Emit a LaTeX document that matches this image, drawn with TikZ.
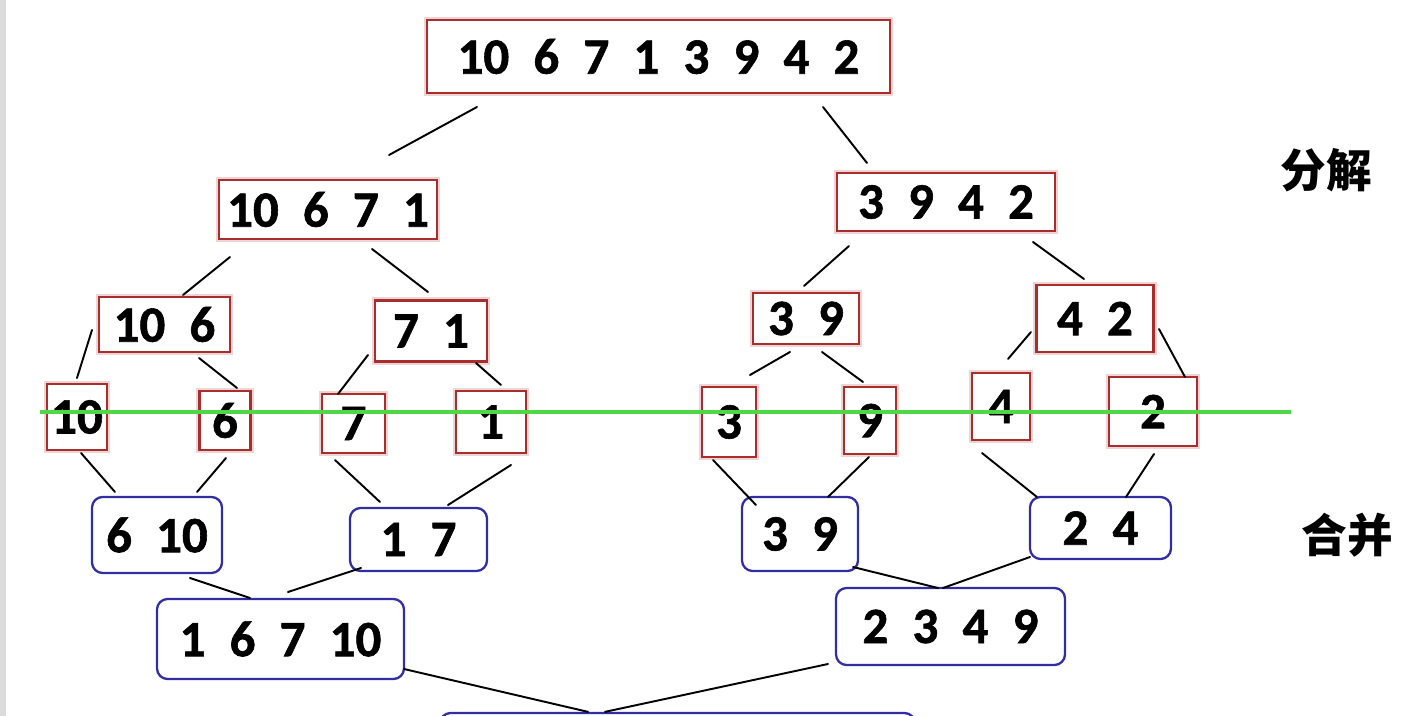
\documentclass[tikz,border=0pt]{standalone}
\usepackage{fontspec}
\setmainfont{Carlito}[WordSpace={2.1,0,0}, BoldFeatures={FakeBold=1.2}]
\newfontfamily\cjk{Noto Sans CJK SC}
\usetikzlibrary{calc}
\definecolor{splitred}{RGB}{170,45,45}
\definecolor{mergeblue}{RGB}{50,45,160}
\definecolor{guidegreen}{RGB}{80,215,70}

\begin{document}
\begin{tikzpicture}[x=0.02cm, y=-0.02cm,
      every node/.append style={font=\fontsize{29}{29}\selectfont\bfseries, inner sep=0pt},
      sz/.style n args={2}{minimum width=#1*0.02cm, minimum height=#2*0.02cm},
      split/.style={draw=splitred, line width=1.2pt, fill=white,
        preaction={draw=splitred!20, line width=3.5pt}},
      merge/.style={draw=mergeblue, line width=1.3pt, rounded corners=6pt, fill=white},
      conn/.style={line width=1.1pt, line cap=round}]
    \tikzstyle{phase} = [font=\cjk\fontsize{26}{26}\selectfont\bfseries]
    \useasboundingbox (0,0) rectangle (1418,716);
    \clip (0,0) rectangle (1418,716);
    \fill[black!14] (0,0) rectangle (6,716);

    \node[split, sz={463}{73}] (top) at (658.5,56.5) {10 6 7 1 3 9 4 2};
    \node[split, sz={218}{59}] (l) at (328,209.5) {10 6 7 1};
    \node[split, sz={218}{58}] (r) at (946,202) {3 9 4 2};
    \node[split, sz={131}{55}] (ll) at (164.5,324.5) {10 6};
    \node[split, sz={112}{61}] (lr) at (431,331) {7 1};
    \node[split, sz={106}{51}] (rl) at (806,318.5) {3 9};
    \node[split, sz={117}{67}] (rr) at (1095,318.5) {4 2};

    \node[split, sz={60}{66}] (a10) at (77,417) {10};
    \node[split, sz={51}{59}] (a6) at (225,420.5) {6};
    \node[split, sz={63}{59}] (a7) at (353.5,423.5) {7};
    \node[split, sz={70}{62}] (a1) at (491,422) {1};
    \node[split, sz={54}{70}] (a3) at (729,422) {3};
    \node[split, sz={52}{67}] (a9) at (870,420.5) {9};
    \node[split, sz={58}{67}] (a4) at (1001,406.5) {4};
    \node[split, sz={88}{69}] (a2) at (1153,411.5) {2};

    \node[merge, sz={130}{76}] (m610) at (157,535) {6 10};
    \node[merge, sz={137}{63}] (m17) at (418.5,539.5) {1 7};
    \node[merge, sz={116}{74}] (m39) at (800,534) {3 9};
    \node[merge, sz={141}{62}] (m24) at (1100.5,528) {2 4};
    \node[merge, sz={247}{80}] (mm1) at (280.5,639) {1 6 7 10};
    \node[merge, sz={229}{77}] (mm2) at (950.5,626.5) {2 3 4 9};
    \node[merge, sz={475}{94}] (fin) at (677.5,760) {};

    \node[phase] (split_label) at (1326,170) {分解};
    \node[phase] (merge_label) at (1347,535) {合并};

    \draw[conn] ($(top)+(-181.5,50.5)$) -- ($(l)+(61,-54.5)$);
    \draw[conn] ($(top)+(164.5,50.5)$) -- ($(r)+(-79,-39)$);
    \draw[conn] ($(l)+(-98,47.5)$) -- ($(ll)+(18.5,-29.5)$);
    \draw[conn] ($(l)+(44,39.5)$) -- ($(lr)+(-3,-39)$);
    \draw[conn] ($(r)+(-97,44)$) -- ($(rl)+(-2,-32.5)$);
    \draw[conn] ($(r)+(87,40)$) -- ($(rr)+(-11,-39.5)$);
    \draw[conn] ($(ll)+(-72.5,5.5)$) -- ($(a10)+(0,-39)$);
    \draw[conn] ($(ll)+(34.5,33.5)$) -- ($(a6)+(12,-32.5)$);
    \draw[conn] ($(lr)+(-63,24)$) -- ($(a7)+(-15.5,-29.5)$);
    \draw[conn] ($(lr)+(45,32)$) -- ($(a1)+(10,-37)$);
    \draw[conn] ($(rl)+(-16,33.5)$) -- ($(a3)+(21,-47)$);
    \draw[conn] ($(rl)+(16,33.5)$) -- ($(a9)+(-7,-38.5)$);
    \draw[conn] ($(rr)+(-64,13.5)$) -- ($(a4)+(7,-47.5)$);
    \draw[conn] ($(rr)+(64,10.5)$) -- ($(a2)+(32,-34.5)$);

    \draw[conn] ($(a10)+(4,36)$) -- ($(m610)+(-42,-43)$);
    \draw[conn] ($(a6)+(1,37.5)$) -- ($(m610)+(40,-43)$);
    \draw[conn] ($(a7)+(-18.5,36.5)$) -- ($(m17)+(-38.5,-37.5)$);
    \draw[conn] ($(a1)+(20,43)$) -- ($(m17)+(29.5,-34.5)$);
    \draw[conn] ($(a3)+(-16,38)$) -- ($(m39)+(-44,-29)$);
    \draw[conn] ($(a9)+(-1,36.5)$) -- ($(m39)+(28,-37)$);
    \draw[conn] ($(a4)+(-19,46.5)$) -- ($(m24)+(-63.5,-31)$);
    \draw[conn] ($(a2)+(1,42.5)$) -- ($(m24)+(25.5,-31)$);
    \draw[conn] ($(m610)+(33,43)$) -- ($(mm1)+(-30.5,-41)$);
    \draw[conn] ($(m17)+(-57.5,28.5)$) -- ($(mm1)+(7.5,-47)$);
    \draw[conn] ($(m39)+(53,33)$) -- ($(mm2)+(-12.5,-38.5)$);
    \draw[conn] ($(m24)+(-70.5,29)$) -- ($(mm2)+(-7.5,-38.5)$);
    \draw[conn] ($(mm1)+(123.5,30)$) -- ($(fin.north)+(-89.5,0)$);
    \draw[conn] ($(mm2)+(-122.5,37.5)$) -- ($(fin.north)+(-72.5,0)$);

    \draw[guidegreen, line width=2.2pt] (40,412) -- (1291,412);
  \end{tikzpicture}
\end{document}
